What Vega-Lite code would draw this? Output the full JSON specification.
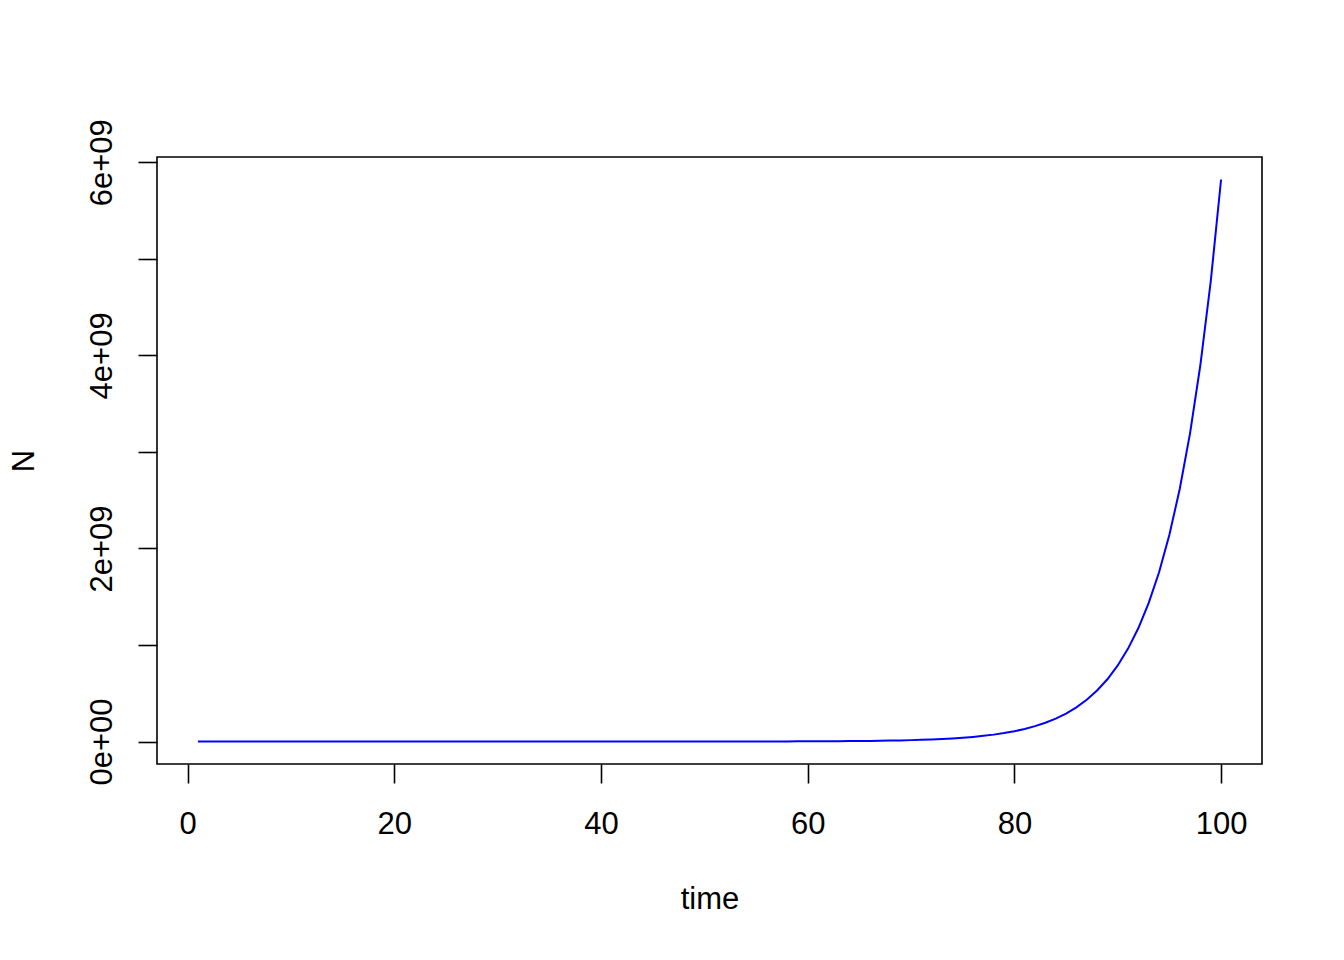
{
  "$schema": "https://vega.github.io/schema/vega-lite/v6.json",
  "autosize": "none",
  "padding": {"left": 157, "top": 157, "right": 82, "bottom": 196},
  "width": 1105,
  "height": 607,
  "background": "white",
  "config": {
    "view": {"stroke": "black", "strokeWidth": 1.6},
    "font": "Liberation Sans"
  },
  "data": {"values": [
    {"time":1,"N":14.657},{"time":2,"N":17.902},{"time":3,"N":21.865},{"time":4,"N":26.706},{"time":5,"N":32.619},
    {"time":6,"N":39.841},{"time":7,"N":48.662},{"time":8,"N":59.436},{"time":9,"N":72.596},{"time":10,"N":88.669},
    {"time":11,"N":108.30},{"time":12,"N":132.28},{"time":13,"N":161.56},{"time":14,"N":197.34},{"time":15,"N":241.03},
    {"time":16,"N":294.39},{"time":17,"N":359.57},{"time":18,"N":439.18},{"time":19,"N":536.41},{"time":20,"N":655.18},
    {"time":21,"N":800.24},{"time":22,"N":977.41},{"time":23,"N":1193.8},{"time":24,"N":1458.1},{"time":25,"N":1781.0},
    {"time":26,"N":2175.3},{"time":27,"N":2656.9},{"time":28,"N":3245.1},{"time":29,"N":3963.6},{"time":30,"N":4841.1},
    {"time":31,"N":5913.0},{"time":32,"N":7222.1},{"time":33,"N":8821.1},{"time":34,"N":10774},{"time":35,"N":13160},
    {"time":36,"N":16073},{"time":37,"N":19632},{"time":38,"N":23978},{"time":39,"N":29287},{"time":40,"N":35772},
    {"time":41,"N":43691},{"time":42,"N":53365},{"time":43,"N":65180},{"time":44,"N":79611},{"time":45,"N":97237},
    {"time":46,"N":118766},{"time":47,"N":145061},{"time":48,"N":177177},{"time":49,"N":216405},{"time":50,"N":264318},
    {"time":51,"N":322838},{"time":52,"N":394316},{"time":53,"N":481618},{"time":54,"N":588250},{"time":55,"N":718490},
    {"time":56,"N":877565},{"time":57,"N":1071861},{"time":58,"N":1309174},{"time":59,"N":1599028},{"time":60,"N":1953058},
    {"time":61,"N":2385470},{"time":62,"N":2913619},{"time":63,"N":3558703},{"time":64,"N":4346609},{"time":65,"N":5308961},
    {"time":66,"N":6484379},{"time":67,"N":7920039},{"time":68,"N":9673557},{"time":69,"N":11815309},{"time":70,"N":14431251},
    {"time":71,"N":17626370},{"time":72,"N":21528897},{"time":73,"N":26295454},{"time":74,"N":32117341},{"time":75,"N":39228208},
    {"time":76,"N":47913442},{"time":77,"N":58521610},{"time":78,"N":71478456},{"time":79,"N":87303974},{"time":80,"N":106633326},
    {"time":81,"N":130242235},{"time":82,"N":159078229},{"time":83,"N":194298594},{"time":84,"N":237316832},{"time":85,"N":289859434},
    {"time":86,"N":354035111},{"time":87,"N":432419461},{"time":88,"N":528158322},{"time":89,"N":645094024},{"time":90,"N":787919629},
    {"time":91,"N":962367209},{"time":92,"N":1175437963},{"time":93,"N":1435683168},{"time":94,"N":1753536432},{"time":95,"N":2141787612},
    {"time":96,"N":2615985300},{"time":97,"N":3195171648},{"time":98,"N":3902591472},{"time":99,"N":4766628312},{"time":100,"N":5821982340}
  ]},
  "mark": {"type": "line", "color": "#0000ff", "strokeWidth": 2},
  "encoding": {
    "x": {
      "field": "time", "type": "quantitative",
      "scale": {"domain": [-2.96, 103.96], "nice": false, "zero": false},
      "axis": {
        "values": [0, 20, 40, 60, 80, 100],
        "grid": false, "domain": false,
        "tickColor": "black", "tickWidth": 1.6, "tickSize": 19,
        "labelFont": "Liberation Sans", "labelFontSize": 31, "labelColor": "black",
        "labelBaseline": "alphabetic", "labelPadding": 50, "labelFlush": false,
        "title": "time", "titleFont": "Liberation Sans", "titleFontSize": 31, "titleFontWeight": "normal",
        "titleColor": "black", "titleBaseline": "alphabetic", "titleY": 144, "titleX": 552.5, "titleAnchor": "middle"
      }
    },
    "y": {
      "field": "N", "type": "quantitative",
      "scale": {"domain": [-232879279, 6054861619], "nice": false, "zero": false},
      "axis": {
        "values": [0, 1000000000, 2000000000, 3000000000, 4000000000, 5000000000, 6000000000],
        "labelExpr": "datum.value == 0 ? '0e+00' : (datum.value % 2000000000 == 0 ? (datum.value / 1000000000) + 'e+09' : '')",
        "grid": false, "domain": false,
        "tickColor": "black", "tickWidth": 1.6, "tickSize": 19,
        "labelFont": "Liberation Sans", "labelFontSize": 31, "labelColor": "black",
        "labelAngle": -90, "labelAlign": "center", "labelBaseline": "alphabetic", "labelPadding": 27, "labelFlush": false,
        "labelOverlap": false,
        "title": "N", "titleFont": "Liberation Sans", "titleFontSize": 31, "titleFontWeight": "normal",
        "titleColor": "black", "titleAngle": -90, "titleBaseline": "alphabetic", "titleX": -124, "titleY": 303.5, "titleAnchor": "middle"
      }
    }
  }
}
